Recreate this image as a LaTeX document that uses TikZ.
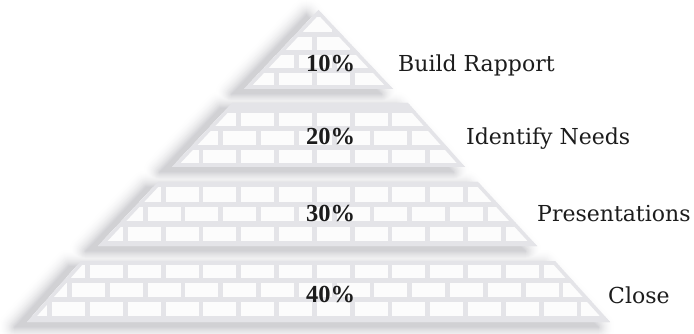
\documentclass[tikz,border=0pt]{standalone}
\usepackage{fontspec}
\setmainfont{DejaVu Serif}
\newfontfamily\pctfont{Liberation Serif}
\definecolor{mortar}{RGB}{228,228,232}
\definecolor{brick}{RGB}{252,252,252}
\definecolor{ink}{RGB}{28,28,28}
\definecolor{shadecol}{RGB}{100,100,112}
\tikzset{
  pct/.style={font=\pctfont\bfseries\fontsize{24.5}{26}\selectfont, text=ink, anchor=base, inner sep=0pt},
  lbl/.style={font=\fontsize{22}{24}\selectfont, text=ink, anchor=base west, inner sep=0pt},
}
\newcommand\bricksA[2]{\foreach \k in {-3,...,16} \fill[brick] ({90+37.8*\k},#1) rectangle ({123+37.8*\k},#2);}
\newcommand\bricksB[2]{\foreach \k in {-3,...,16} \fill[brick] ({72+37.8*\k},#1) rectangle ({105+37.8*\k},#2);}
\newcommand\tiershadow[1]{%
  \begin{scope}[shift={(-12,5)}]
    \foreach \w [evaluate=\w as \p using {30*(1-\w/36)*(1-\w/36)}] in {36,34,...,2}{\draw[shadecol!\p!white, line width=\w pt, line join=round] #1;}
    \fill[shadecol!30!white] #1;
  \end{scope}}
\newcommand\tierbody[2]{%
  \begin{scope}
    \clip #1;
    \fill[mortar] #1;
    #2
    \draw[mortar, line width=7pt, line join=miter] #1;
  \end{scope}}
\newcommand\tA{(318.5,10) -- (393,89) -- (244,89) -- cycle}
\newcommand\tB{(232,103) -- (408,103) -- (465,167) -- (172,167) -- cycle}
\newcommand\tC{(158,182) -- (478,182) -- (537,246) -- (98,246) -- cycle}
\newcommand\tD{(81,261) -- (555,261) -- (610,322) -- (27,322) -- cycle}
\begin{document}
\begin{tikzpicture}[x=1pt,y=-1pt]
\useasboundingbox (0,0) rectangle (694,334);
\fill[white] (0,0) rectangle (694,334);
% shadows, combined with darken blending
\begin{scope}[blend mode=darken]
\tiershadow{\tD}
\tiershadow{\tC}
\tiershadow{\tB}
\tiershadow{\tA}
\end{scope}
% tier bodies
\tierbody{\tA}{\bricksB{17}{32}\bricksA{37}{50.5}\bricksB{55}{68.5}\bricksA{73}{85}}
\tierbody{\tB}{\bricksA{113}{126.5}\bricksB{131.5}{145}\bricksA{150}{163}}
\tierbody{\tC}{\bricksA{187}{202}\bricksB{207}{221.5}\bricksA{226.5}{241}}
\tierbody{\tD}{\bricksA{264.5}{277.5}\bricksB{283}{297}\bricksA{302}{316}}
% texts
\node[pct] (p1) at (330.5,71.7) {10\%};
\node[pct] (p2) at (330.5,145) {20\%};
\node[pct] (p3) at (330.5,222) {30\%};
\node[pct] (p4) at (330.5,302) {40\%};
\node[lbl] (l1) at (398,71.7) {Build Rapport};
\node[lbl] (l2) at (466,145) {Identify Needs};
\node[lbl] (l3) at (537,222) {Presentations};
\node[lbl] (l4) at (608,303) {Close};
\end{tikzpicture}
\end{document}
